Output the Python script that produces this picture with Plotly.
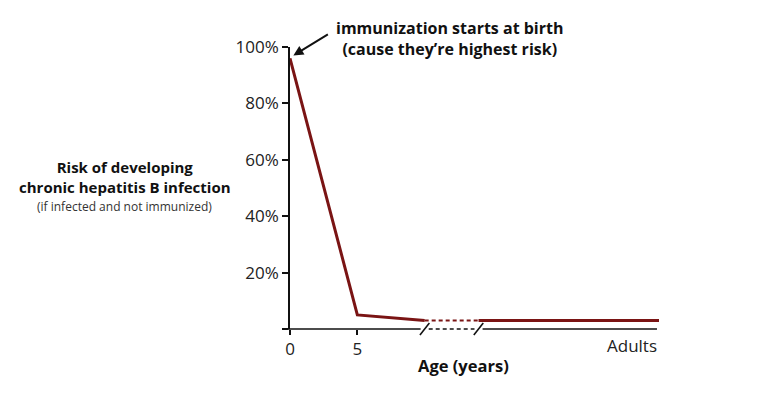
import plotly.graph_objects as go

# ---- data ----
ages = [0, 5, 10]                 # positions on the age axis (years)
risk = [96, 5, 3]                 # % risk of chronic infection
break_start = 10                  # start of axis break
break_end = 14                    # end of axis break
adult_pos = 27.4                  # position standing for "Adults"
adult_risk = 3
y_ticks = [0, 20, 40, 60, 80, 100]
y_ticktext = ["", "20%", "40%", "60%", "80%", "100%"]
x_ticks = [0, 5]
x_ticktext = ["0", "5"]

RED = "#7a1414"
FONT = "Open Sans"
OFF = 8                      # page body margin
W, H = 772 - OFF, 394 - OFF
ML, MT = 290 - OFF, 47 - OFF
PW, PH = 369, 282
MR = W - ML - PW
MB = H - MT - PH

fig = go.Figure()
fig.add_trace(go.Scatter(x=ages, y=risk, mode="lines",
                         line=dict(color=RED, width=3), hoverinfo="skip"))
fig.add_trace(go.Scatter(x=[break_start, break_end], y=[adult_risk, adult_risk], mode="lines",
                         line=dict(color=RED, width=2, dash="4px,3px"), hoverinfo="skip"))
fig.add_trace(go.Scatter(x=[break_end, adult_pos], y=[adult_risk, adult_risk], mode="lines",
                         line=dict(color=RED, width=3), hoverinfo="skip"))

shapes = []
ax_line = dict(color="#111", width=1.6)
shapes.append(dict(type="line", xref="paper", yref="paper", x0=-6 / PW, x1=0, y0=0, y1=0, line=ax_line))
shapes.append(dict(type="line", xref="x", yref="paper", x0=0, x1=break_start - 0.3, y0=0, y1=0, line=ax_line))
shapes.append(dict(type="line", xref="x", yref="paper", x0=break_start + 0.3, x1=break_end - 0.3, y0=0, y1=0,
                   line=dict(color="#111", width=1.4, dash="4px,3px")))
shapes.append(dict(type="line", xref="x", yref="paper", x0=break_end + 0.3, x1=adult_pos - 0.15, y0=0, y1=0, line=ax_line))
for b in (break_start, break_end):
    shapes.append(dict(type="line", xref="x", yref="paper", x0=b - 0.35, x1=b + 0.35,
                       y0=-6 / PH, y1=6 / PH, line=dict(color="#111", width=1.6)))

annotations = []
def px_x(p):
    return (p - OFF - ML) / PW
def px_y(p):
    return (OFF + MT + PH - p) / PH

annotations.append(dict(xref="x", yref="y", x=0.25, y=97, ax=36, ay=-22, axref="pixel", ayref="pixel",
                        showarrow=True, arrowhead=2, arrowsize=1, arrowwidth=2, arrowcolor="#111", text=""))
annotations.append(dict(xref="paper", yref="paper", x=px_x(449), y=px_y(39), xanchor="center", yanchor="middle",
                        showarrow=False, align="center",
                        text="<b>immunization starts at birth<br>(cause they’re highest risk)</b>",
                        font=dict(family=FONT, size=16, color="#111")))
annotations.append(dict(xref="paper", yref="paper", x=px_x(125), y=px_y(177), xanchor="center", yanchor="middle",
                        showarrow=False, align="center",
                        text="<b>Risk of developing<br>chronic hepatitis B infection</b>",
                        font=dict(family=FONT, size=15, color="#111")))
annotations.append(dict(xref="paper", yref="paper", x=px_x(124), y=px_y(206), xanchor="center", yanchor="middle",
                        showarrow=False, text="(if infected and not immunized)", font=dict(family=FONT, size=12, color="#333")))
annotations.append(dict(xref="x", yref="paper", x=adult_pos, y=px_y(345), xanchor="right", yanchor="middle",
                        showarrow=False, text="Adults", font=dict(family=FONT, size=17, color="#222")))
annotations.append(dict(xref="paper", yref="paper", x=px_x(463), y=px_y(365), xanchor="center", yanchor="middle",
                        showarrow=False, text="<b>Age (years)</b>", font=dict(family=FONT, size=16.5, color="#111")))

fig.update_layout(
    width=W, height=H, margin=dict(l=ML, r=MR, t=MT, b=MB),
    paper_bgcolor="white", plot_bgcolor="white", showlegend=False,
    font=dict(family=FONT, color="#222"),
    xaxis=dict(range=[0, adult_pos], showgrid=False, zeroline=False, showline=False,
               tickvals=x_ticks, ticktext=x_ticktext, ticks="outside", ticklen=5, tickwidth=1.6,
               tickcolor="#111", tickfont=dict(size=17, color="#222", family=FONT), fixedrange=True),
    yaxis=dict(range=[0, 100], showgrid=False, zeroline=False, showline=True, linecolor="#111", linewidth=1.6,
               tickvals=y_ticks, ticktext=y_ticktext, ticks="outside", ticklen=6, tickwidth=1.6,
               tickcolor="#111", tickfont=dict(size=17, color="#222", family=FONT), fixedrange=True),
    shapes=shapes, annotations=annotations,
)
fig.write_html("out.html")
